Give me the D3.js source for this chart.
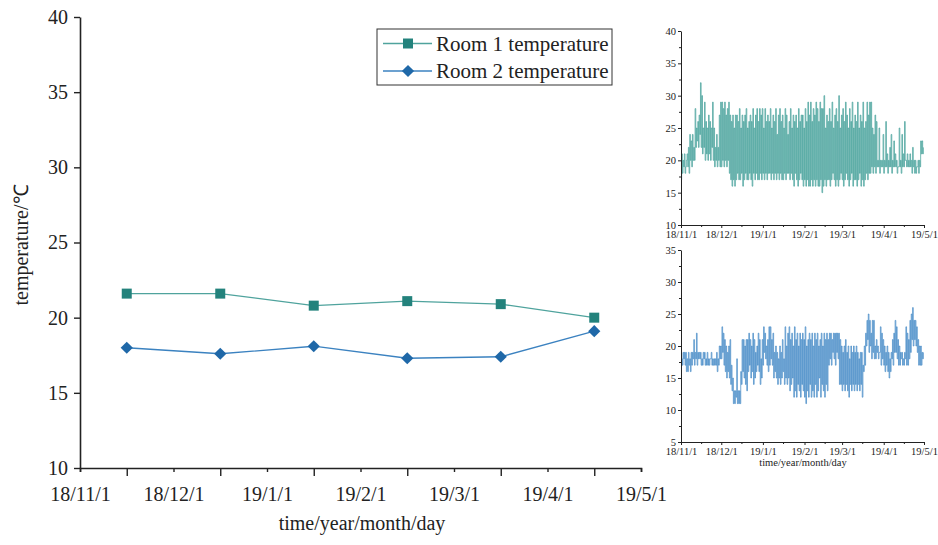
<!DOCTYPE html>
<html>
<head>
<meta charset="utf-8">
<script src="https://cdn.jsdelivr.net/npm/d3@7"></script>
<style>
  body { margin: 0; background: #fff; }
  svg { display: block; }
  text { font-family: "Liberation Serif", "Times New Roman", serif; fill: #222; }
  .axis path, .axis line { stroke: #222; }
</style>
</head>
<body>
<div id="chart-area"></div>
<script>
// monthly averages (main chart)
const monthLabels = ['18/11/1','18/12/1','19/1/1','19/2/1','19/3/1','19/4/1','19/5/1']
const room1Avg = [21.6, 21.6, 20.8, 21.1, 20.9, 20.0]
const room2Avg = [18.0, 17.6, 18.1, 17.3, 17.4, 19.1]
const yTicksMain = [10, 15, 20, 25, 30, 35, 40]

// daily high / low readings, 2018-11-01 .. 2019-04-30 (insets)
const room1Hi = [21,20,21,19,21,22,24,23,24,22, 28,25,26,27,32,30,25,29,26,25,
  27,26,25,29,25,22,24,22,27,29, 29,28,29,27,28,29,27,26,27,25,
  27,27,26,28,25,27,26,27,28,25, 26,27,26,28,25,27,28,26,28,27,
  28,25,28,26,27,26,28,25,27,26, 28,24,27,28,26,27,25,28,27,24,
  26,28,25,27,26,27,25,28,26,27, 27,25,28,26,29,27,29,26,28,27,
  29,28,26,29,28,28,30,25,27,26, 28,26,29,25,27,28,26,30,25,27,
  28,26,29,27,25,28,26,29,25,27, 26,29,25,27,26,29,25,26,29,27,
  29,29,25,24,27,26,20,25,20,20, 24,20,26,21,20,22,24,20,23,21,
  20,19,25,20,24,21,26,20,21,20, 21,20,22,20,20,19,20,20,23,23, 22]
const room1Lo = [17,18,19,18,20,19,18,20,19,20, 20,22,23,22,24,22,21,22,20,21,
  20,21,20,22,20,19,20,19,20,19, 19,20,19,20,19,20,18,17,16,17,
  16,17,18,17,17,18,16,17,18,17, 17,18,17,16,18,17,18,17,17,18,
  17,18,17,18,17,18,18,17,18,17, 18,17,18,17,18,17,17,18,17,18,
  18,17,18,17,16,18,17,16,17,18, 17,16,17,16,17,16,16,17,16,17,
  16,17,16,16,17,15,16,17,16,17, 17,16,17,18,17,16,17,16,17,18,
  17,16,17,18,17,16,17,18,16,17, 17,16,17,18,16,17,16,17,18,17,
  18,18,19,18,19,18,19,19,18,19, 19,18,19,19,18,19,19,18,19,19,
  19,18,19,19,18,19,19,20,19,19, 19,19,18,19,18,18,19,18,19,21, 21]
const room2Hi = [18,19,19,19,18,19,18,19,19,21, 19,22,19,19,19,18,19,19,18,19,
  18,18,19,18,18,18,19,18,20,20, 23,22,21,20,19,20,21,17,15,13,
  13,18,13,13,16,21,21,20,21,21, 22,21,20,22,21,19,20,22,21,18,
  21,23,22,20,21,23,23,21,22,19, 20,19,18,20,19,21,18,23,20,22,
  23,21,22,20,23,21,22,20,22,21, 22,21,23,20,21,22,21,22,20,22,
  21,22,20,21,22,20,22,21,22,21, 22,22,21,22,22,22,22,22,21,20,
  19,20,21,19,20,18,20,19,20,19, 20,19,18,19,19,17,20,22,24,25,
  24,22,24,24,20,21,20,19,23,22, 21,20,19,20,19,18,19,21,22,24,
  23,21,20,19,19,18,19,23,22,21, 24,25,26,24,24,23,21,20,20,19, 19]
const room2Lo = [17,17,18,17,16,16,17,16,17,18, 17,18,17,18,18,17,17,18,17,17,
  17,17,18,17,17,17,17,16,17,18, 18,19,17,16,15,16,15,14,13,11,
  11,12,11,11,11,14,16,15,14,13, 16,17,15,16,14,15,16,17,16,14,
  15,17,19,18,17,16,17,18,17,15, 16,15,14,15,14,15,16,14,15,14,
  15,13,14,15,12,13,12,14,13,12, 14,13,12,11,13,12,14,12,13,12,
  14,12,13,15,12,14,13,12,14,13, 17,18,17,19,18,17,19,18,14,14,
  13,14,13,14,13,12,14,13,14,13, 14,13,14,13,14,12,16,17,20,21,
  19,20,18,19,18,18,19,18,19,17, 18,17,16,17,16,15,16,18,17,19,
  19,18,17,17,18,17,17,18,17,17, 18,19,21,20,21,20,19,17,17,17, 18]
const insetTop = [10, 15, 20, 25, 30, 35, 40]
const insetBottom = [5, 10, 15, 20, 25, 30, 35]

const W = 938, H = 545
const svg = d3.select('#chart-area').append('svg')
  .attr('width', W).attr('height', H)

// ---------- main chart ----------
const M = {LEFT: 80, RIGHT: 641, TOP: 17, BOTTOM: 468}
const x = d3.scaleLinear().domain([0, 6]).range([M.LEFT, M.RIGHT])
const y = d3.scaleLinear().domain([10, 40]).range([M.BOTTOM, M.TOP])

const main = svg.append('g')

// x axis: short ticks + labels at month starts, long ticks at data points
main.append('g')
  .attr('class', 'axis')
  .attr('transform', `translate(0,${M.BOTTOM})`)
  .call(d3.axisBottom(x).tickValues(d3.range(0, 7)).tickSize(4).tickPadding(15)
    .tickFormat(i => monthLabels[i]))
  .call(g => g.select('.domain').attr('stroke-width', 1.6))
  .call(g => g.selectAll('line').attr('stroke-width', 1.4))
  .selectAll('text').attr('font-size', '20px').attr('fill', '#222')

main.append('g')
  .attr('class', 'axis')
  .attr('transform', `translate(0,${M.BOTTOM})`)
  .call(d3.axisBottom(x).tickValues(d3.range(6).map(i => i + 0.5)).tickSize(8).tickFormat(''))
  .call(g => g.select('.domain').remove())
  .call(g => g.selectAll('line').attr('stroke-width', 1.4))

main.append('g')
  .attr('class', 'axis')
  .attr('transform', `translate(${M.LEFT},0)`)
  .call(d3.axisLeft(y).tickValues(yTicksMain).tickSize(6).tickPadding(6).tickSizeOuter(0))
  .call(g => g.select('.domain').attr('stroke-width', 1.6))
  .call(g => g.selectAll('line').attr('stroke-width', 1.4))
  .selectAll('text').attr('font-size', '20px').attr('fill', '#222')

main.append('text')
  .attr('transform', 'rotate(-90)')
  .attr('x', -245).attr('y', 28)
  .attr('text-anchor', 'middle')
  .attr('font-size', '20px')
  .text('temperature/℃')

main.append('text')
  .attr('x', 362).attr('y', 530)
  .attr('text-anchor', 'middle')
  .attr('font-size', '20px')
  .text('time/year/month/day')

const C1 = '#23827c', C1L = '#4fa39d'
const C2 = '#1f68a8', C2L = '#3b82c0'

const mline = d3.line().x((d, i) => x(i + 0.5)).y(d => y(d))
main.append('path').datum(room1Avg)
  .attr('d', mline).attr('fill', 'none').attr('stroke', C1L).attr('stroke-width', 1.3)
main.append('path').datum(room2Avg)
  .attr('d', mline).attr('fill', 'none').attr('stroke', C2L).attr('stroke-width', 1.3)

const sq = d3.symbol().type(d3.symbolSquare).size(100)
const dia = d3.symbol().type(d3.symbolDiamond2).size(95)

main.selectAll('.m1').data(room1Avg).enter().append('path')
  .attr('class', 'm1')
  .attr('transform', (d, i) => `translate(${x(i + 0.5)},${y(d)})`)
  .attr('d', sq).attr('fill', C1)
main.selectAll('.m2').data(room2Avg).enter().append('path')
  .attr('class', 'm2')
  .attr('transform', (d, i) => `translate(${x(i + 0.5)},${y(d)})`)
  .attr('d', dia).attr('fill', C2)

// legend
const lg = main.append('g').attr('transform', 'translate(377,29)')
lg.append('rect').attr('width', 235).attr('height', 56)
  .attr('fill', '#fff').attr('stroke', '#333').attr('stroke-width', 1)
const legendRows = [
  {name: 'Room 1 temperature', c: C1, cl: C1L, sym: sq, dy: 14.5},
  {name: 'Room 2 temperature', c: C2, cl: C2L, sym: dia, dy: 42}
]
legendRows.forEach(r => {
  lg.append('line').attr('x1', 6).attr('x2', 55).attr('y1', r.dy).attr('y2', r.dy)
    .attr('stroke', r.cl).attr('stroke-width', 1.3)
  lg.append('path').attr('transform', `translate(31,${r.dy})`).attr('d', r.sym).attr('fill', r.c)
  lg.append('text').attr('x', 59).attr('y', r.dy + 7)
    .attr('font-size', '21px').text(r.name)
})

// ---------- insets ----------
const t0 = new Date(2018, 10, 1), t1 = new Date(2019, 4, 1)
const monthTicks = d3.timeMonth.range(t0, d3.timeDay.offset(t1, 1))
const midTicks = monthTicks.slice(0, -1).map(d => new Date(d.getFullYear(), d.getMonth(), 16))
const fmt = d => `${d.getFullYear() % 100}/${d.getMonth() + 1}/1`

function inset(top, bottom, domain, ticks, hi, lo, color, title) {
  const xs = d3.scaleTime().domain([t0, t1]).range([681, 924])
  const ys = d3.scaleLinear().domain(domain).range([bottom, top])
  const g = svg.append('g')

  const pts = []
  lo.forEach((v, d) => {
    pts.push({t: new Date(2018, 10, 1 + d, 0), v: v})
    pts.push({t: new Date(2018, 10, 1 + d, 12), v: hi[d]})
  })
  g.append('path').datum(pts)
    .attr('d', d3.line().curve(d3.curveStepAfter).x(p => xs(p.t)).y(p => ys(p.v)))
    .attr('fill', 'none').attr('stroke', color).attr('stroke-width', 0.8).attr('stroke-opacity', 0.9)

  g.append('g').attr('class', 'axis')
    .attr('transform', `translate(0,${bottom})`)
    .call(d3.axisBottom(xs).tickValues(monthTicks).tickSize(3).tickPadding(3).tickFormat(fmt))
    .call(a => a.select('.domain').attr('stroke', '#555'))
    .call(a => a.selectAll('line').attr('stroke', '#555'))
    .selectAll('text').attr('font-size', '10.5px').attr('fill', '#333')
  g.append('g').attr('class', 'axis')
    .attr('transform', `translate(0,${bottom})`)
    .call(d3.axisBottom(xs).tickValues(midTicks).tickSize(2).tickFormat(''))
    .call(a => a.select('.domain').remove())
    .call(a => a.selectAll('line').attr('stroke', '#777'))

  const minor = d3.range(domain[0] + 2.5, domain[1], 5)
  g.append('g').attr('class', 'axis')
    .attr('transform', 'translate(681,0)')
    .call(d3.axisLeft(ys).tickValues(ticks).tickSize(3).tickPadding(2).tickSizeOuter(0))
    .call(a => a.select('.domain').attr('stroke', '#555'))
    .call(a => a.selectAll('line').attr('stroke', '#555'))
    .selectAll('text').attr('font-size', '10.5px').attr('fill', '#333')
  g.append('g').attr('class', 'axis')
    .attr('transform', 'translate(681,0)')
    .call(d3.axisLeft(ys).tickValues(minor).tickSize(2).tickFormat(''))
    .call(a => a.select('.domain').remove())
    .call(a => a.selectAll('line').attr('stroke', '#777'))

  if (title) {
    g.append('text').attr('x', 803).attr('y', bottom + 24)
      .attr('text-anchor', 'middle').attr('font-size', '10.5px').attr('fill', '#333')
      .text(title)
  }
}

inset(31, 225, [10, 40], insetTop, room1Hi, room1Lo, '#3f9d97', null)
inset(250, 442, [5, 35], insetBottom, room2Hi, room2Lo, '#3f86c4', 'time/year/month/day')
</script>
</body>
</html>
